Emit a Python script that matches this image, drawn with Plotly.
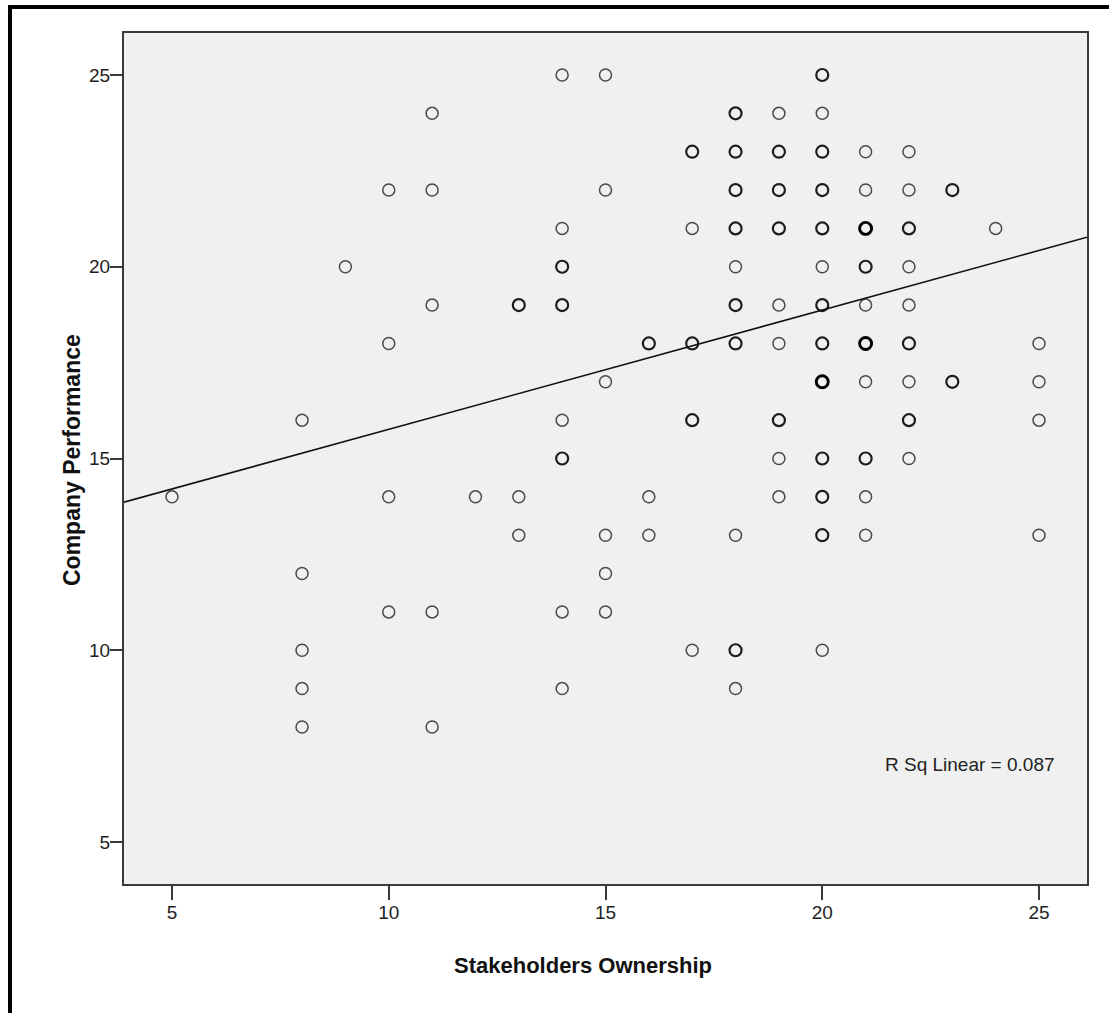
import plotly.graph_objects as go

# ---- data ----
ownership = [5,
             8, 8, 8, 8, 8,
             9,
             10, 10, 10, 10,
             11, 11, 11, 11, 11,
             12,
             13, 13, 13,
             14, 14, 14, 14, 14, 14, 14, 14,
             15, 15, 15, 15, 15, 15,
             16, 16, 16,
             17, 17, 17, 17, 17,
             18, 18, 18, 18, 18, 18, 18, 18, 18, 18,
             19, 19, 19, 19, 19, 19, 19, 19, 19,
             20, 20, 20, 20, 20, 20, 20, 20, 20, 20, 20, 20, 20,
             21, 21, 21, 21, 21, 21, 21, 21, 21, 21,
             22, 22, 22, 22, 22, 22, 22, 22, 22,
             23, 23,
             24,
             25, 25, 25, 25]
performance = [14,
               16, 12, 10, 9, 8,
               20,
               22, 18, 14, 11,
               24, 22, 19, 11, 8,
               14,
               19, 14, 13,
               25, 21, 20, 19, 16, 15, 11, 9,
               25, 22, 17, 13, 12, 11,
               18, 14, 13,
               23, 21, 18, 16, 10,
               24, 23, 22, 21, 20, 19, 18, 13, 10, 9,
               24, 23, 22, 21, 19, 18, 16, 15, 14,
               25, 24, 23, 22, 21, 20, 19, 18, 17, 15, 14, 13, 10,
               23, 22, 21, 20, 19, 18, 17, 15, 14, 13,
               23, 22, 21, 20, 19, 18, 17, 16, 15,
               22, 17,
               21,
               18, 17, 16, 13]
# number of overlapping cases at each point (darker circles in the reference)
case_count = [1,
              1, 1, 1, 1, 1,
              1,
              1, 1, 1, 1,
              1, 1, 1, 1, 1,
              1,
              2, 1, 1,
              1, 1, 2, 2, 1, 2, 1, 1,
              1, 1, 1, 1, 1, 1,
              2, 1, 1,
              2, 1, 2, 2, 1,
              2, 2, 2, 2, 1, 2, 2, 1, 2, 1,
              1, 2, 2, 2, 1, 1, 2, 1, 1,
              2, 1, 2, 2, 2, 1, 2, 2, 3, 2, 2, 2, 1,
              1, 1, 3, 2, 1, 3, 1, 2, 1, 1,
              1, 1, 2, 1, 1, 2, 1, 2, 1,
              2, 2,
              1,
              1, 1, 1, 1]

x_ticks = [5, 10, 15, 20, 25]
y_ticks = [5, 10, 15, 20, 25]
x_range = [3.893, 26.107]
y_range = [3.905, 26.095]

fit_intercept = 12.65
fit_slope = 0.311
r_sq_label = "R Sq Linear = 0.087"

x_title = "Stakeholders Ownership"
y_title = "Company Performance"

# ---- styling derived from counts ----
line_widths = [1.5 + 0.7 * (c - 1) for c in case_count]
line_colors = ["#4a4a4a" if c == 1 else ("#1c1c1c" if c == 2 else "#000000") for c in case_count]

W, H = 1109, 1013
L, R, T, B = 124, 22, 33, 129
pw, ph = W - L - R, H - T - B

def px_x(px):
    return (px - L) / pw

def px_y(py):
    return (H - B - py) / ph

font_family = "Liberation Sans, Arial, sans-serif"

fig = go.Figure()

fig.add_trace(go.Scatter(
    x=ownership, y=performance, mode="markers",
    marker=dict(symbol="circle-open", size=12,
                line=dict(width=line_widths, color=line_colors),
                color=line_colors),
    showlegend=False, hoverinfo="x+y"))

fit_x = [x_range[0], x_range[1]]
fit_y = [fit_intercept + fit_slope * v for v in fit_x]
fig.add_trace(go.Scatter(x=fit_x, y=fit_y, mode="lines",
                         line=dict(color="#111111", width=1.6),
                         showlegend=False, hoverinfo="skip"))

axis_common = dict(showgrid=False, zeroline=False, showline=True, mirror=True,
                   linecolor="#3a3a3a", linewidth=2, ticks="outside",
                   tickcolor="#3a3a3a", tickwidth=2,
                   tickfont=dict(family=font_family, size=19, color="#222222"))

fig.update_layout(
    width=W, height=H,
    margin=dict(l=L, r=R, t=T, b=B),
    paper_bgcolor="white", plot_bgcolor="#F0F0F0",
    xaxis=dict(range=x_range, tickvals=x_ticks, ticklen=14,
               ticklabelstandoff=-4, **axis_common),
    yaxis=dict(range=y_range, tickvals=y_ticks, ticklen=12,
               ticklabelstandoff=-4, **axis_common),
    annotations=[
        dict(text=r_sq_label, x=21.4, y=7.01, xref="x", yref="y",
             xanchor="left", yanchor="middle", showarrow=False,
             font=dict(family=font_family, size=19, color="#222222")),
        dict(text="<b>" + x_title + "</b>", x=px_x(583), y=px_y(965),
             xref="paper", yref="paper", xanchor="center", yanchor="middle",
             showarrow=False,
             font=dict(family=font_family, size=22, color="#111111")),
        dict(text="<b>" + y_title + "</b>", x=px_x(72), y=px_y(460),
             xref="paper", yref="paper", xanchor="center", yanchor="middle",
             textangle=-90, showarrow=False,
             font=dict(family=font_family, size=23, color="#111111")),
    ],
    shapes=[
        dict(type="line", xref="paper", yref="paper",
             x0=px_x(10), x1=px_x(10), y0=px_y(5), y1=px_y(1020),
             line=dict(color="black", width=4)),
        dict(type="line", xref="paper", yref="paper",
             x0=px_x(8), x1=px_x(1115), y0=px_y(7), y1=px_y(7),
             line=dict(color="black", width=4)),
    ],
)

fig.write_html("out.html", config={"displayModeBar": False},
               post_script="document.body.style.margin='0';document.body.style.overflow='hidden';")
